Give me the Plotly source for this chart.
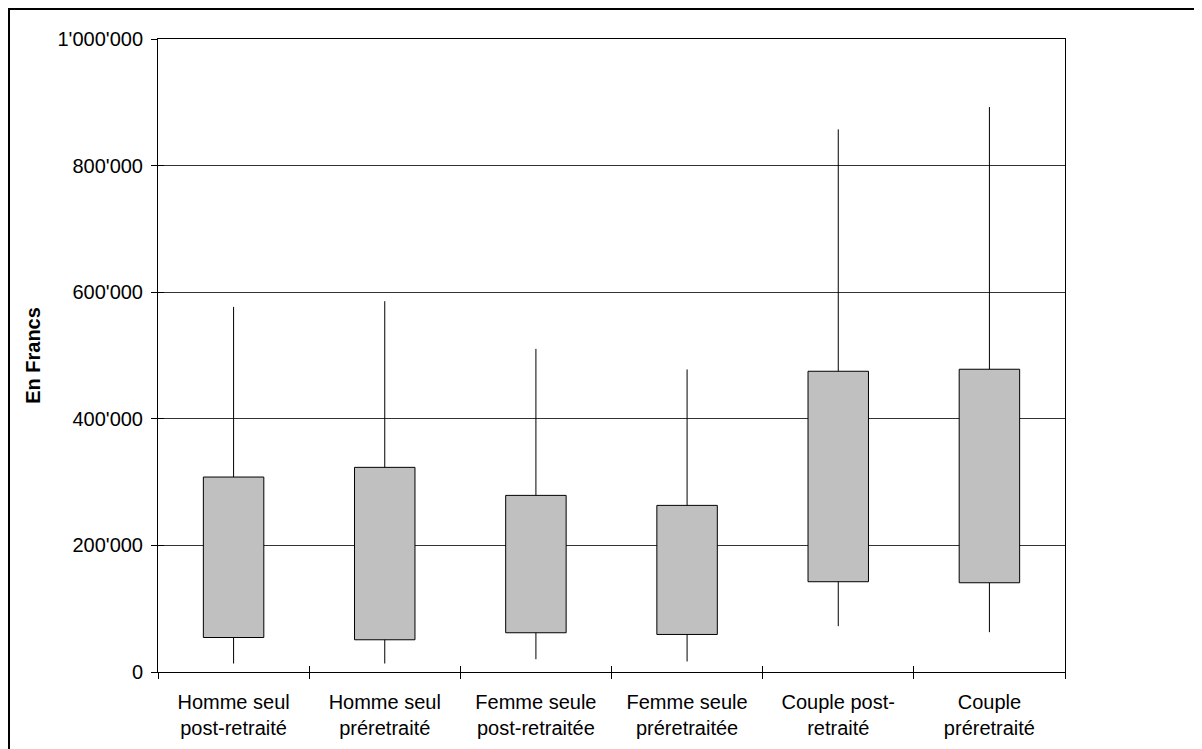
import plotly.graph_objects as go

categories = [
    "Homme seul<br>post-retraité",
    "Homme seul<br>préretraité",
    "Femme seule<br>post-retraitée",
    "Femme seule<br>préretraitée",
    "Couple post-<br>retraité",
    "Couple<br>préretraité",
]
high = [576800, 585800, 510400, 478000, 857200, 892500]
box_top = [308000, 323300, 279000, 263200, 475100, 478300]
box_bottom = [54500, 50900, 62000, 59300, 142600, 141000]
low = [13400, 13400, 20200, 16600, 72400, 62900]

y_ticks = [0, 200000, 400000, 600000, 800000, 1000000]
y_tick_labels = ["0", "200'000", "400'000", "600'000", "800'000", "1'000'000"]

FONT = "Liberation Sans, Arial, sans-serif"

# whisker segments (low -> box bottom, box top -> high), built from the data
wx, wy = [], []
for c, lo, b, t, hi in zip(categories, low, box_bottom, box_top, high):
    wx += [c, c, None, c, c, None]
    wy += [lo, b, None, t, hi, None]

fig = go.Figure()

fig.add_trace(go.Bar(
    x=categories,
    y=[t - b for t, b in zip(box_top, box_bottom)],
    base=box_bottom,
    width=0.4,
    marker=dict(color="#C0C0C0", line=dict(color="#000000", width=1)),
    showlegend=False,
    hoverinfo="skip",
))

fig.add_trace(go.Scatter(
    x=wx, y=wy, mode="lines",
    line=dict(color="#000000", width=1),
    showlegend=False, hoverinfo="skip",
))

# invisible helper trace for the crossing tick marks overlay
fig.add_trace(go.Scatter(
    x=categories, y=high, xaxis="x2", yaxis="y2",
    mode="markers", marker=dict(opacity=0), showlegend=False, hoverinfo="skip",
))

fig.update_layout(
    width=1194, height=741,
    margin=dict(l=150, r=137, t=31, b=77, autoexpand=False),
    paper_bgcolor="white", plot_bgcolor="white",
    font=dict(family=FONT, size=20, color="#000000"),
    xaxis=dict(
        type="category", categoryorder="array", categoryarray=categories,
        range=[-0.5, 5.5], automargin=False,
        showline=True, linecolor="#000000", linewidth=1, mirror=True,
        ticks="outside", ticklen=6, tickcolor="#000000", tickwidth=1,
        tickson="boundaries", showgrid=False, zeroline=False,
        tickfont=dict(family=FONT, size=20),
        ticklabelstandoff=12,
    ),
    yaxis=dict(
        range=[0, 1000000],
        tickvals=y_ticks, ticktext=y_tick_labels,
        showline=True, linecolor="#000000", linewidth=1, mirror=True,
        ticks="outside", ticklen=6, tickcolor="#000000", tickwidth=1,
        showgrid=True, gridcolor="#333333", gridwidth=1, zeroline=False,
        tickfont=dict(family=FONT, size=20),
        ticklabelstandoff=4,
        title=dict(text="<b>En Francs</b>", font=dict(family=FONT, size=20), standoff=11),
    ),
    xaxis2=dict(
        type="category", categoryorder="array", categoryarray=categories,
        range=[-0.5, 5.5], overlaying="x", anchor="y2", automargin=False,
        ticks="inside", ticklen=6, tickcolor="#000000", tickwidth=1,
        tickson="boundaries", showticklabels=False, showgrid=False,
        showline=False, zeroline=False,
    ),
    yaxis2=dict(
        range=[0, 1000000], overlaying="y", anchor="x2", side="left",
        automargin=False, tickvals=y_ticks,
        ticks="inside", ticklen=6, tickcolor="#000000", tickwidth=1,
        showticklabels=False, showgrid=False, showline=False, zeroline=False,
    ),
    shapes=[dict(
        type="rect", xref="paper", yref="paper",
        x0=-149 / 907, x1=1.3, y0=-0.3, y1=1 + 30 / 633,
        line=dict(color="#000000", width=2), fillcolor="rgba(0,0,0,0)",
        layer="below",
    )],
)

fig.write_html("out.html")
